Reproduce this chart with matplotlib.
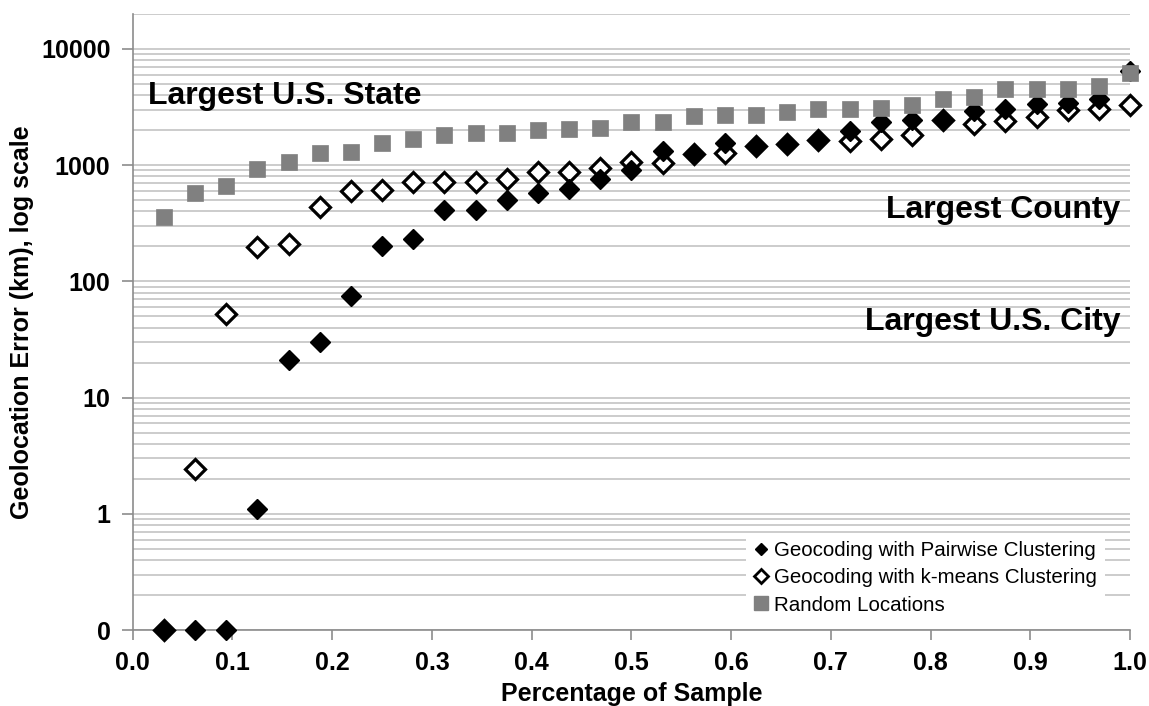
import matplotlib
matplotlib.use("Agg")
import matplotlib.pyplot as plt
from matplotlib.lines import Line2D
from matplotlib.ticker import LogLocator, FixedLocator, FixedFormatter, NullFormatter

plt.rcParams['font.family'] = ['Liberation Sans', 'DejaVu Sans']

sample_pct = [0.03125, 0.0625, 0.09375, 0.125, 0.15625, 0.1875, 0.21875, 0.25,
              0.28125, 0.3125, 0.34375, 0.375, 0.40625, 0.4375, 0.46875, 0.5,
              0.53125, 0.5625, 0.59375, 0.625, 0.65625, 0.6875, 0.71875, 0.75,
              0.78125, 0.8125, 0.84375, 0.875, 0.90625, 0.9375, 0.96875, 1.0]

pairwise = [0.1, 0.1, 0.1, 1.1, 21, 30, 75, 200, 230, 410, 410, 505, 580, 620,
            760, 910, 1320, 1250, 1540, 1470, 1520, 1650, 1950, 2350, 2460, 2460,
            2900, 3050, 3370, 3450, 3680, 6400]

kmeans = [0.1, 2.45, 52, 197, 210, 440, 600, 615, 720, 720, 720, 760, 880, 880,
          950, 1070, 1045, 1240, 1270, 1460, 1510, 1640, 1600, 1680, 1830, 2440,
          2280, 2380, 2600, 2960, 3070, 3310]

random_loc = [361, 575, 665, 931, 1070, 1262, 1290, 1538, 1680, 1828, 1893, 1893,
              2018, 2060, 2100, 2350, 2350, 2630, 2716, 2716, 2865, 3042, 3042, 3100,
              3310, 3705, 3830, 4520, 4520, 4520, 4830, 6250]

series_names = ["Geocoding with Pairwise Clustering",
                "Geocoding with k-means Clustering",
                "Random Locations"]

y_ticks = [0.1, 1, 10, 100, 1000, 10000]
y_tick_labels = ["0", "1", "10", "100", "1000", "10000"]
x_ticks = [0.0, 0.1, 0.2, 0.3, 0.4, 0.5, 0.6, 0.7, 0.8, 0.9, 1.0]

annotations = [("Largest U.S. State", 0.015, 3960, "left"),
               ("Largest County", 0.99, 413, "right"),
               ("Largest U.S. City", 0.99, 44.8, "right")]

fig = plt.figure(figsize=(11.49, 7.06), dpi=100)
ax = fig.add_axes([0.1155, 0.1076, 0.868, 0.8726])

grid_c = "#c4c4c4"
ax.set_yscale("log")
ax.set_ylim(0.1, 20000)
ax.set_xlim(0.0, 1.0)

ax.yaxis.set_major_locator(FixedLocator(y_ticks))
ax.yaxis.set_major_formatter(FixedFormatter(y_tick_labels))
ax.yaxis.set_minor_locator(LogLocator(base=10, subs=[2, 3, 4, 5, 6, 7, 8, 9], numticks=20))
ax.yaxis.set_minor_formatter(NullFormatter())
ax.set_xticks(x_ticks)
ax.set_xticklabels([f"{v:.1f}" for v in x_ticks])

ax.grid(True, which="both", axis="y", color=grid_c, linewidth=1.2)
ax.grid(False, axis="x")
ax.set_axisbelow(True)

for s in ["top", "right"]:
    ax.spines[s].set_visible(False)
ax.spines["left"].set_color("#8c8c8c")
ax.spines["bottom"].set_color("#8c8c8c")
ax.spines["left"].set_linewidth(1.2)
ax.spines["bottom"].set_linewidth(1.2)

ax.tick_params(axis="y", which="major", direction="out", length=8, width=1.2,
               color="#8c8c8c", labelsize=18, pad=8)
ax.tick_params(axis="y", which="minor", length=0)
ax.tick_params(axis="x", which="major", direction="out", length=7, width=1.2,
               color="#8c8c8c", labelsize=18, pad=8)
for lab in ax.get_xticklabels() + ax.get_yticklabels():
    lab.set_fontweight("bold")

ax.plot(sample_pct, kmeans, linestyle="none", marker="D", markersize=10,
        markerfacecolor="white", markeredgecolor="black", markeredgewidth=2.3,
        zorder=3, clip_on=False)
ax.plot(sample_pct, pairwise, linestyle="none", marker="D", markersize=10.5,
        markerfacecolor="black", markeredgecolor="black", markeredgewidth=1.0,
        zorder=4, clip_on=False)
ax.plot(sample_pct, random_loc, linestyle="none", marker="s", markersize=11,
        markerfacecolor="#808080", markeredgecolor="#808080", markeredgewidth=0.5,
        zorder=5, clip_on=False)

for text, xv, yv, ha in annotations:
    ax.text(xv, yv, text, ha=ha, va="center", fontsize=23, fontweight="bold",
            color="black", zorder=6)

ax.set_xlabel("Percentage of Sample", fontsize=18, fontweight="bold", labelpad=5)
ax.set_ylabel("Geolocation Error (km), log scale", fontsize=18, fontweight="bold",
              labelpad=5)

handles = [
    Line2D([], [], linestyle="none", marker="D", markersize=6.5,
           markerfacecolor="black", markeredgecolor="black"),
    Line2D([], [], linestyle="none", marker="D", markersize=7.5,
           markerfacecolor="white", markeredgecolor="black", markeredgewidth=2),
    Line2D([], [], linestyle="none", marker="s", markersize=10,
           markerfacecolor="#808080", markeredgecolor="#808080"),
]
leg = ax.legend(handles, series_names, loc="lower right",
                bbox_to_anchor=(0.985, -0.005), fontsize=14.8, frameon=True,
                handlelength=0.7, handletextpad=0.25, labelspacing=0.4,
                borderpad=0.4, fancybox=False)
leg.get_frame().set_facecolor("white")
leg.get_frame().set_edgecolor("none")
leg.get_frame().set_alpha(1.0)
leg.set_zorder(7)

fig.savefig("out.png", dpi=100, facecolor="white")
